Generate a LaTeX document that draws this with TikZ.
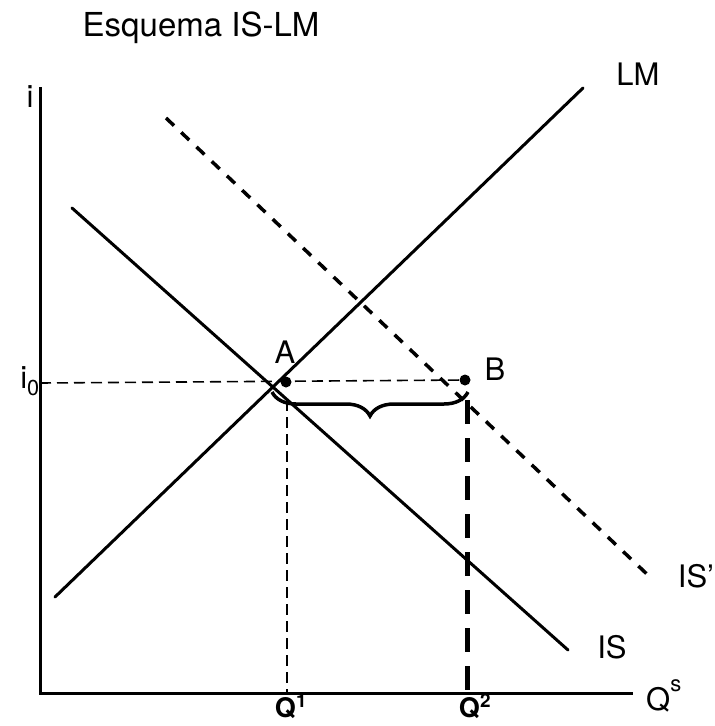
\documentclass[tikz,border=0pt]{standalone}
\usepackage{fontspec}
\setmainfont{TeX Gyre Heros}
\usetikzlibrary{decorations.pathreplacing,positioning}
\tikzset{
  axisline/.style={line width=3pt},
  curveline/.style={line width=3pt, line cap=round},
  shiftline/.style={line width=3.5pt, dash pattern=on 11pt off 10pt},
  guideline/.style={line width=1.6pt, dash pattern=on 11pt off 6pt},
  qline/.style={line width=5pt, dash pattern=on 24pt off 14pt},
  bracecurve/.style={line width=3.5pt, decorate, decoration={brace, mirror, amplitude=24pt}},
  curvelabel/.style={font=\fontsize{31}{36}\selectfont, inner sep=0pt},
  qlabel/.style={font=\fontsize{27}{30}\selectfont\bfseries, inner sep=0pt, anchor=base},
  eqdot/.style={circle, fill, inner sep=0pt, minimum size=11pt}
}

\begin{document}
\begin{tikzpicture}[x=1pt, y=-1pt]
  \useasboundingbox (0,0) rectangle (715,726);
  \node[curvelabel, font=\fontsize{33}{38}\selectfont] (title) at (201,28) {Esquema IS-LM};

  % axes
  \coordinate (itop) at (40,87);
  \coordinate (qend) at (633,693);
  \draw[axisline] (itop) |- (qend);
  \node[curvelabel] (ilabel) at (30,97) {i};
  \node[curvelabel, anchor=west] (qlabel) at (646,696) {Q\raisebox{0.6em}{\fontsize{22}{24}\selectfont s}};

  % curves
  \coordinate (lm1) at (55,597);
  \coordinate (lm2) at (583,88);
  \coordinate (is1) at (72,208);
  \coordinate (is2) at (568,650);
  \coordinate (isp1) at (166,118);
  \coordinate (isp2) at (650,577);
  \draw[curveline] (lm1) -- (lm2);
  \draw[curveline] (is1) -- (is2);
  \draw[shiftline] (isp1) -- (isp2);
  \node[curvelabel] (lmlabel) at (638,74) {LM};
  \node[curvelabel] (islabel) at (612,647) {IS};
  \node[curvelabel] (isplabel) at (696,576) {IS'};

  % equilibria
  \node[eqdot] (a) at (286,382) {};
  \node[eqdot] (b) at (465,380) {};
  \node[curvelabel] (alabel) at (285,352) {A};
  \node[curvelabel] (blabel) at (495,369) {B};
  \node[curvelabel, anchor=east] (i0label) at (40,381) {i\textsubscript{0}};
  \coordinate (q1top) at (287,400);
  \coordinate (q1) at (287,693);
  \coordinate (q2top) at (467,400);
  \coordinate (q2) at (467,693);
  \draw[guideline] (40,383) -- (b);
  \draw[guideline] (q1top) -- (q1);
  \draw[qline] (q2top) -- (q2);
  \draw[bracecurve] (272,392) -- (468,392);
  \node[qlabel] (q1label) at (291,717) {Q\textsuperscript{1}};
  \node[qlabel] (q2label) at (475,717) {Q\textsuperscript{2}};
\end{tikzpicture}
\end{document}
